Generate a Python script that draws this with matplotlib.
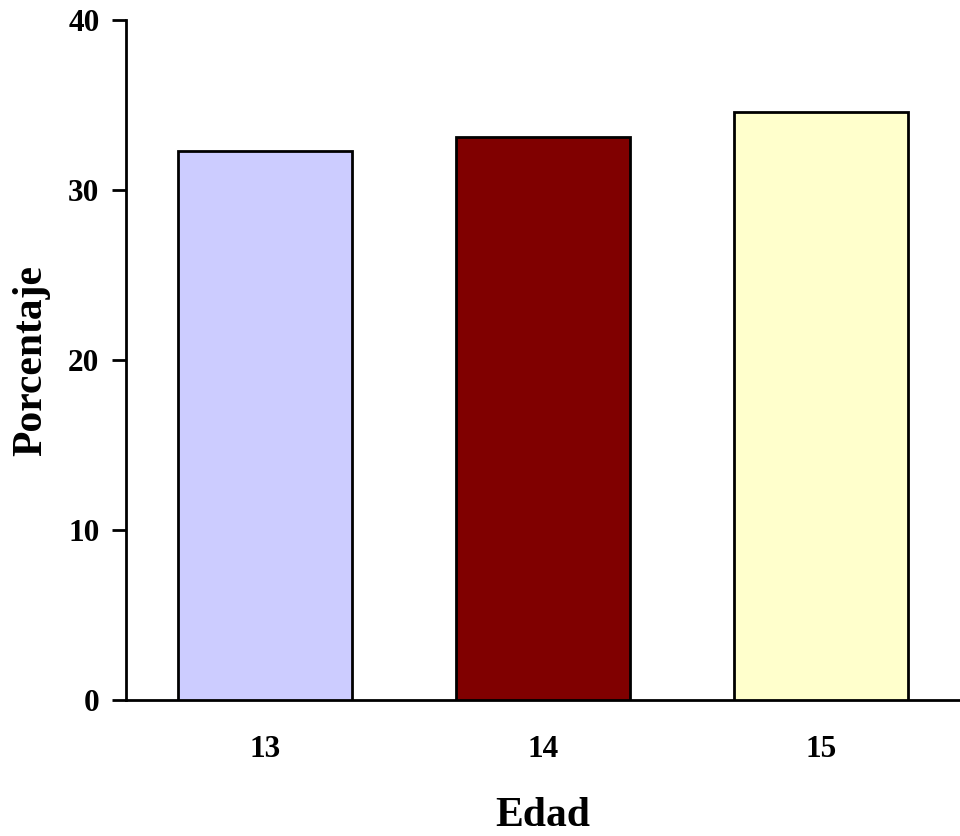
import matplotlib

matplotlib.use("Agg")
import matplotlib.pyplot as plt

edades = ["13", "14", "15"]
porcentajes = [32.3, 33.1, 34.6]
colores = ["#ccccff", "#800000", "#ffffcc"]

plt.rcParams["font.family"] = ["Liberation Serif", "DejaVu Serif"]
plt.rcParams["font.weight"] = "bold"

fig = plt.figure(figsize=(9.6, 8.36), dpi=100)
ax = fig.add_axes([126 / 960, 136 / 836, 834 / 960, 680 / 836])

ax.bar(range(len(edades)), porcentajes, width=0.626, color=colores,
       edgecolor="black", linewidth=2, zorder=3)

ax.set_xlim(-0.5, len(edades) - 0.5)
ax.set_ylim(0, 40)
ax.set_yticks([0, 10, 20, 30, 40])
ax.set_xticks(range(len(edades)))
ax.set_xticklabels(edades)

for side in ("top", "right"):
    ax.spines[side].set_visible(False)
for side in ("left", "bottom"):
    ax.spines[side].set_linewidth(2)

ax.tick_params(axis="y", direction="out", length=10, width=2, labelsize=22.5, pad=9)
ax.tick_params(axis="x", length=0, labelsize=22.5, pad=25)
for lab in ax.get_xticklabels() + ax.get_yticklabels():
    lab.set_fontweight("bold")

ax.set_xlabel("Edad", fontsize=30, fontweight="bold", labelpad=24)
ax.set_ylabel("Porcentaje", fontsize=30, fontweight="bold", labelpad=13)

fig.savefig("out.png", dpi=100)
